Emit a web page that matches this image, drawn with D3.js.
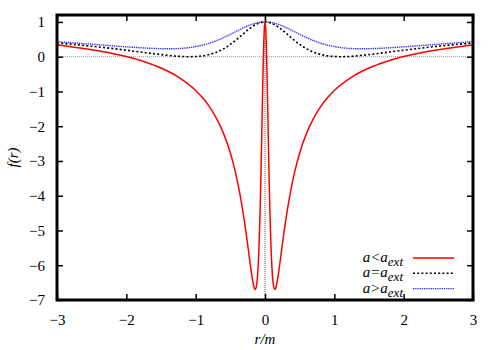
<!DOCTYPE html>
<html>
<head>
<meta charset="utf-8">
<script src="https://cdn.jsdelivr.net/npm/d3@7"></script>
<style>
  body { margin: 0; background: #fff; }
</style>
</head>
<body>
<div id="chart"></div>
<script>
// Data: f(r) against r/m for three values of a
const rSmall = [-3, -2.75, -2.5, -2.25, -2, -1.75, -1.5, -1.25, -1, -0.9, -0.8, -0.7, -0.6, -0.5, -0.45, -0.4, -0.35, -0.3, -0.25, -0.2, -0.175, -0.15, -0.14, -0.125, -0.1, -0.09, -0.08, -0.07, -0.06, -0.05, -0.04, -0.03, -0.02, -0.01, 0,
  0.01, 0.02, 0.03, 0.04, 0.05, 0.06, 0.07, 0.08, 0.09, 0.1, 0.125, 0.14, 0.15, 0.175, 0.2, 0.25, 0.3, 0.35, 0.4, 0.45, 0.5, 0.6, 0.7, 0.8, 0.9, 1, 1.25, 1.5, 1.75, 2, 2.25, 2.5, 2.75, 3];
const fSmall = [0.334, 0.274, 0.202, 0.114, 0.004, -0.137, -0.325, -0.585, -0.970, -1.182, -1.443, -1.772, -2.199, -2.771, -3.134, -3.565, -4.080, -4.692, -5.403, -6.155, -6.480, -6.680, -6.697, -6.618, -6.071, -5.653, -5.095, -4.388, -3.540, -2.578, -1.561, -0.582, 0.246, 0.803, 1,
  0.803, 0.246, -0.582, -1.561, -2.578, -3.540, -4.388, -5.095, -5.653, -6.071, -6.618, -6.697, -6.680, -6.480, -6.155, -5.403, -4.692, -4.080, -3.565, -3.134, -2.771, -2.199, -1.772, -1.443, -1.182, -0.970, -0.585, -0.325, -0.137, 0.004, 0.114, 0.202, 0.274, 0.334];

const rWide = [-3, -2.75, -2.5, -2.25, -2, -1.8, -1.6, -1.4, -1.2, -1.1, -1, -0.9, -0.8, -0.7, -0.6, -0.5, -0.4, -0.3, -0.2, -0.1, 0,
  0.1, 0.2, 0.3, 0.4, 0.5, 0.6, 0.7, 0.8, 0.9, 1, 1.1, 1.2, 1.4, 1.6, 1.8, 2, 2.25, 2.5, 2.75, 3];
const fExt = [0.394, 0.351, 0.302, 0.247, 0.187, 0.136, 0.085, 0.039, 0.006, 0.000, 0.005, 0.025, 0.065, 0.130, 0.226, 0.354, 0.510, 0.681, 0.841, 0.957, 1,
  0.957, 0.841, 0.681, 0.510, 0.354, 0.226, 0.130, 0.065, 0.025, 0.005, 0.000, 0.006, 0.039, 0.085, 0.136, 0.187, 0.247, 0.302, 0.351, 0.394];
const fLarge = [0.431, 0.396, 0.360, 0.322, 0.284, 0.258, 0.238, 0.228, 0.240, 0.260, 0.293, 0.335, 0.391, 0.461, 0.546, 0.642, 0.744, 0.842, 0.925, 0.980, 1,
  0.980, 0.925, 0.842, 0.744, 0.642, 0.546, 0.461, 0.391, 0.335, 0.293, 0.260, 0.240, 0.228, 0.238, 0.258, 0.284, 0.322, 0.360, 0.396, 0.431];

const xTicks = [-3, -2, -1, 0, 1, 2, 3];
const yTicks = [-7, -6, -5, -4, -3, -2, -1, 0, 1];

const series = [
  { label: "a<", r: rSmall, f: fSmall, color: "#ff0000", dash: null, width: 1.5 },
  { label: "a=", r: rWide, f: fExt, color: "#000000", dash: "2,2.2", width: 1.6 },
  { label: "a>", r: rWide, f: fLarge, color: "#2a2aff", dash: "1.3,0.9", width: 1.4 }
];

const W = 500, H = 350;
const margin = { top: 15, right: 27, bottom: 50, left: 57 };
const width = W - margin.left - margin.right;
const height = H - margin.top - margin.bottom;
const serif = '"Liberation Serif"';

const svg = d3.select("#chart").append("svg")
  .attr("width", W)
  .attr("height", H);

const g = svg.append("g")
  .attr("transform", `translate(${margin.left},${margin.top})`);

const x = d3.scaleLinear().domain([-3, 3]).range([0, width]);
const y = d3.scaleLinear().domain([-7, 1.2]).range([height, 0]);

g.append("clipPath").attr("id", "clip")
  .append("rect").attr("width", width).attr("height", height);

// zero axes
g.append("line")
  .attr("x1", 0).attr("x2", width)
  .attr("y1", y(0)).attr("y2", y(0))
  .attr("stroke", "#999").attr("stroke-width", 1)
  .attr("stroke-dasharray", "1,1");
g.append("line")
  .attr("x1", x(0)).attr("x2", x(0))
  .attr("y1", 0).attr("y2", height)
  .attr("stroke", "#555").attr("stroke-width", 1)
  .attr("stroke-dasharray", "1,1");

// curves
const line = d3.line()
  .x(d => x(d[0]))
  .y(d => y(d[1]))
  .curve(d3.curveMonotoneX);

const curves = g.append("g").attr("clip-path", "url(#clip)");
series.slice().reverse().forEach(s => {
  curves.append("path")
    .datum(s.r.map((r, i) => [r, s.f[i]]))
    .attr("fill", "none")
    .attr("stroke", s.color)
    .attr("stroke-width", s.width)
    .attr("stroke-dasharray", s.dash)
    .attr("d", line);
});

// axes with inward ticks on all four sides
const tickLen = 6;
const minus = d => d < 0 ? "\u2212" + Math.abs(d) : d;
const axisStyle = sel => {
  sel.select(".domain").remove();
  sel.selectAll(".tick line").attr("stroke", "#000").attr("stroke-width", 1.5);
  sel.selectAll(".tick text")
    .attr("fill", "#000")
    .style("font-family", serif)
    .style("font-size", "15px");
};

g.append("g")
  .attr("transform", `translate(0,${height})`)
  .call(d3.axisBottom(x).tickValues(xTicks).tickSizeInner(-tickLen).tickSizeOuter(0).tickPadding(14).tickFormat(minus))
  .call(axisStyle);

g.append("g")
  .call(d3.axisTop(x).tickValues(xTicks).tickSizeInner(-tickLen).tickSizeOuter(0).tickFormat(""))
  .call(axisStyle);

g.append("g")
  .call(d3.axisLeft(y).tickValues(yTicks).tickSizeInner(-tickLen).tickSizeOuter(0).tickPadding(12).tickFormat(minus))
  .call(axisStyle);

g.append("g")
  .attr("transform", `translate(${width},0)`)
  .call(d3.axisRight(y).tickValues(yTicks).tickSizeInner(-tickLen).tickSizeOuter(0).tickFormat(""))
  .call(axisStyle);

// frame
g.append("rect")
  .attr("width", width).attr("height", height)
  .attr("fill", "none").attr("stroke", "#000").attr("stroke-width", 3);

// axis titles
svg.append("text")
  .attr("x", margin.left + x(0)).attr("y", 344)
  .attr("text-anchor", "middle")
  .style("font-family", serif)
  .style("font-size", "15px").style("font-style", "italic")
  .text("r/m");

svg.append("text")
  .attr("transform", `translate(18,${margin.top + height / 2}) rotate(-90)`)
  .attr("text-anchor", "middle")
  .style("font-family", serif)
  .style("font-size", "15px").style("font-style", "italic")
  .text("f(r)");

// legend
const legend = g.append("g").attr("transform", `translate(${width - 60}, 243)`);
series.forEach((s, i) => {
  const row = legend.append("g").attr("transform", `translate(0, ${i * 15.3})`);
  row.append("line")
    .attr("x1", 0).attr("x2", 41)
    .attr("stroke", s.color)
    .attr("stroke-width", s.width)
    .attr("stroke-dasharray", s.dash);
  const t = row.append("text")
    .attr("x", -10).attr("y", 4)
    .attr("text-anchor", "end")
    .style("font-family", serif)
    .style("font-size", "15px").style("font-style", "italic");
  t.append("tspan").text(s.label + "a");
  t.append("tspan").attr("dy", 4).style("font-size", "13px").text("ext");
});
</script>
</body>
</html>
